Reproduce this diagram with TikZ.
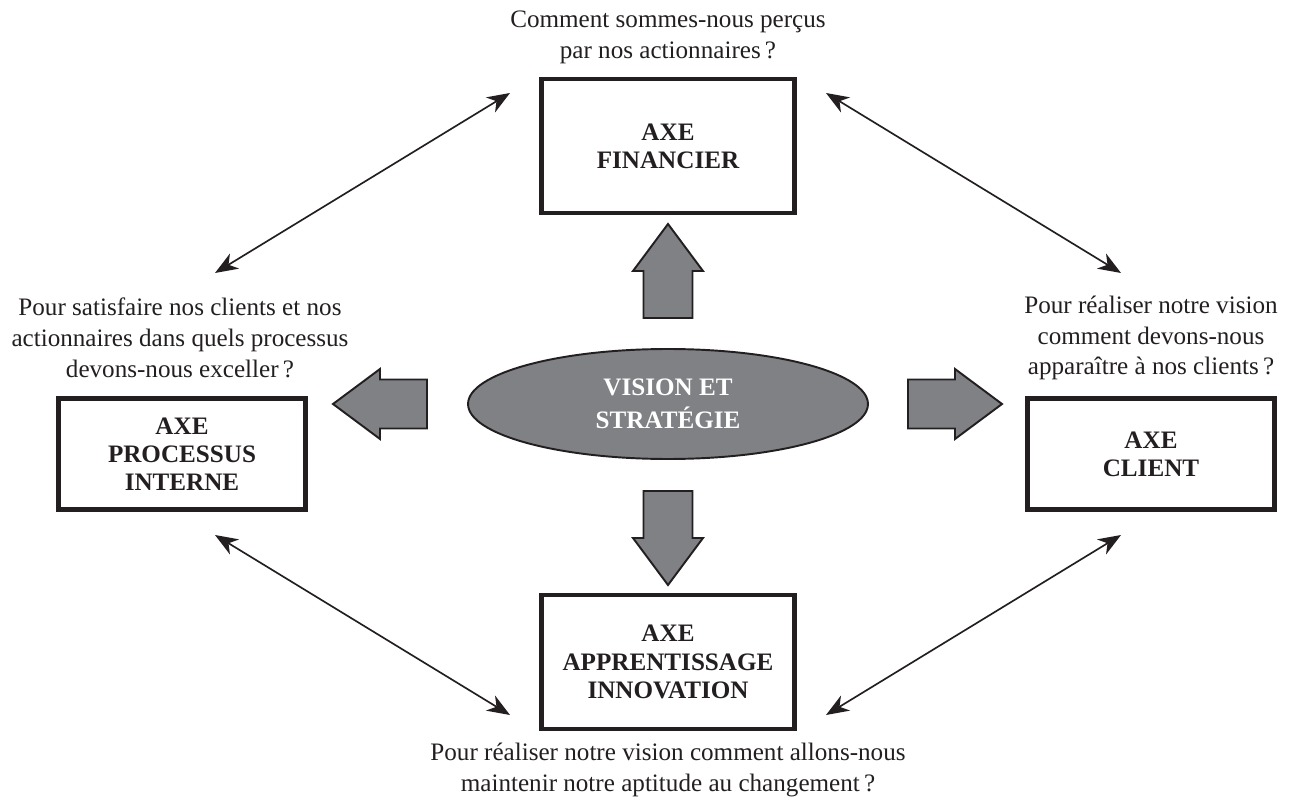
\documentclass[tikz,border=0pt]{standalone}
\usepackage{fontspec}
\setmainfont{Liberation Serif}
\usepackage{tikz}
\usetikzlibrary{arrows.meta,positioning,shapes.geometric}
\definecolor{BSCgray}{RGB}{128,129,133}
\definecolor{BSCink}{HTML}{231F20}
\tikzset{
  bsc/axis/.style={draw=BSCink, line width=2.8pt, align=center, inner sep=0pt, text=BSCink, font=\fontsize{14.3}{16}\selectfont\bfseries},
  bsc/axisbig/.style={bsc/axis, minimum width=5.06cm, minimum height=2.68cm},
  bsc/axisside/.style={bsc/axis, minimum width=4.94cm, minimum height=2.22cm},
  bsc/vision/.style={draw=BSCink, ellipse, line width=1.1pt, fill=BSCgray, text=white, align=center, inner sep=0pt, minimum width=8.0cm, minimum height=2.2cm, font=\fontsize{14.3}{18.5}\selectfont\bfseries},
  bsc/question/.style={align=center, inner sep=0pt, text=BSCink, font=\fontsize{14.3}{17.6}\selectfont},
  bsc/link/.style={{Stealth[length=13pt,width=10pt,inset=4pt]}-{Stealth[length=13pt,width=10pt,inset=4pt]}, line width=0.95pt, draw=BSCink},
  bsc/block/.style={draw=BSCink, line width=1.1pt, fill=BSCgray, line join=miter},
  pics/bigarrow/.style={code={
    \draw[bsc/block] (0,-24.5) -- (47,-24.5) -- (47,-35) -- (94,0) -- (47,35) -- (47,24.5) -- (0,24.5) -- cycle;
  }}
}

\begin{document}
\begin{tikzpicture}[x=0.02cm,y=-0.02cm]

\useasboundingbox (0,0) rectangle (1291,800);

\node[bsc/vision] (vision) at (668,404) {VISION ET\\STRATÉGIE};

\node[bsc/axisbig] (fin) at (668,146) {AXE\\FINANCIER};
\node[bsc/axisbig] (app) at (668,662) {AXE\\APPRENTISSAGE\\INNOVATION};
\node[bsc/axisside] (proc) at (182,454) {AXE\\PROCESSUS\\INTERNE};
\node[bsc/axisside] (cli) at (1151,454) {AXE\\CLIENT};

\node[bsc/question] (qfin) at (668,37) {Comment sommes-nous perçus\\par nos actionnaires\,?};
\node[bsc/question] (qapp) at (668,770) {Pour réaliser notre vision comment allons-nous\\maintenir notre aptitude au changement\,?};
\node[bsc/question] (qproc) at (180,338) {Pour satisfaire nos clients et nos\\actionnaires dans quels processus\\devons-nous exceller\,?};
\node[bsc/question] (qcli) at (1151,338) {Pour réaliser notre vision\\comment devons-nous\\apparaître à nos clients\,?};

\pic[rotate=90] at (668,318) {bigarrow};
\pic[rotate=-90] at (668,491) {bigarrow};
\pic[rotate=180] at (427,404) {bigarrow};
\pic at (908,404) {bigarrow};

\coordinate (tl1) at (215,273);
\coordinate (tl2) at (510,93);
\coordinate (tr1) at (826,93);
\coordinate (tr2) at (1121,273);
\coordinate (bl1) at (215,535);
\coordinate (bl2) at (510,715);
\coordinate (br1) at (1121,535);
\coordinate (br2) at (826,715);

\foreach \a/\b in {tl1/tl2, tr1/tr2, bl1/bl2, br1/br2}
  \draw[bsc/link] (\a) -- (\b);

\end{tikzpicture}
\end{document}
